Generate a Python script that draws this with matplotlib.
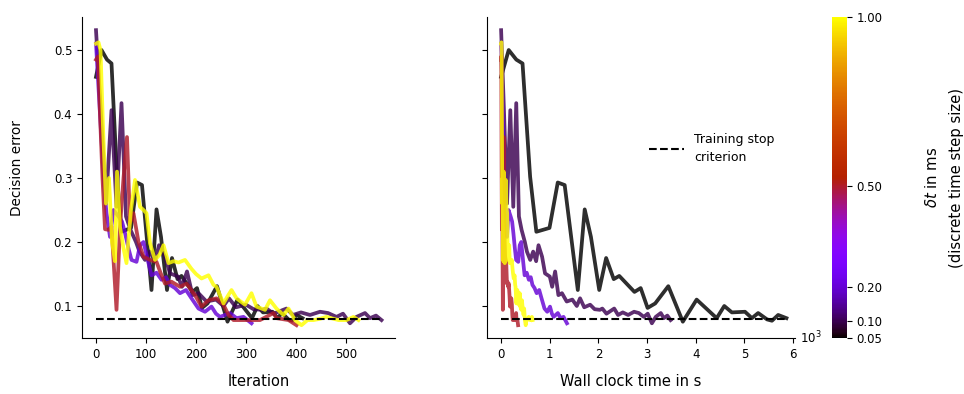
import numpy as np
import matplotlib
matplotlib.use("Agg")
from matplotlib import pyplot as plt
from matplotlib import colors, cm

# time step sizes (ms) of the runs
DT = [0.05, 0.1, 0.2, 0.5, 1.0]
# wall clock seconds per training iteration, per run
SEC_PER_IT = [14.2, 6.1, 4.35, 0.87, 1.23]

IT_005 = [0, 11, 22, 31, 42, 51, 70, 82, 92, 111, 121, 130, 142, 152, 163, 171, 193,
          202, 212, 223, 242, 263, 283, 312, 323, 334, 353, 363, 372, 385, 392, 401, 413]
ERR_005 = [0.458, 0.50, 0.485, 0.479, 0.302, 0.216, 0.222, 0.293, 0.289, 0.125, 0.251,
           0.208, 0.125, 0.175, 0.142, 0.147, 0.122, 0.128, 0.097, 0.104, 0.131, 0.0755,
           0.110, 0.081, 0.100, 0.090, 0.091, 0.081, 0.089, 0.079, 0.077, 0.086, 0.081]

IT_01 = [0, 10, 20, 31, 41, 51, 60, 69, 80, 87, 98, 108, 118, 126, 138, 148, 164, 172,
         182, 193, 205, 221, 240, 255, 266, 280, 300, 315, 333, 341, 355, 368, 381, 394,
         410, 428, 448, 464, 481, 494, 508, 521, 538, 548, 560, 571]
ERR_01 = [0.531, 0.40, 0.26, 0.406, 0.255, 0.417, 0.24, 0.219, 0.20, 0.185, 0.172, 0.185,
          0.17, 0.195, 0.177, 0.151, 0.146, 0.13, 0.154, 0.117, 0.12, 0.107, 0.11, 0.10,
          0.112, 0.098, 0.102, 0.095, 0.094, 0.096, 0.088, 0.092, 0.096, 0.086, 0.09,
          0.086, 0.091, 0.089, 0.083, 0.088, 0.073, 0.083, 0.089, 0.081, 0.085, 0.078]

IT_02 = [0, 8, 16, 21, 28, 35, 45, 52, 58, 65, 71, 81, 88, 95, 104, 111, 121, 131, 140,
         148, 158, 168, 180, 191, 205, 218, 231, 240, 248, 258, 268, 281, 295, 303, 311]
ERR_02 = [0.51, 0.40, 0.29, 0.245, 0.208, 0.25, 0.24, 0.232, 0.214, 0.19, 0.172, 0.169,
          0.195, 0.20, 0.17, 0.148, 0.152, 0.141, 0.145, 0.133, 0.128, 0.12, 0.125, 0.112,
          0.096, 0.091, 0.099, 0.088, 0.083, 0.086, 0.089, 0.081, 0.083, 0.078, 0.073]

IT_05 = [0, 4, 8, 13, 18, 25, 31, 41, 48, 55, 62, 68, 75, 85, 95, 108, 121, 130, 138,
         151, 168, 181, 198, 211, 225, 241, 255, 265, 275, 301, 328, 355, 361, 385, 401]
ERR_05 = [0.485, 0.49, 0.40, 0.30, 0.22, 0.219, 0.224, 0.094, 0.224, 0.30, 0.364, 0.23,
          0.245, 0.20, 0.177, 0.172, 0.169, 0.15, 0.135, 0.138, 0.13, 0.135, 0.117, 0.099,
          0.109, 0.112, 0.102, 0.086, 0.078, 0.078, 0.078, 0.089, 0.081, 0.078, 0.07]

IT_1 = [0, 5, 9, 14, 20, 26, 32, 38, 42, 48, 55, 61, 70, 78, 88, 95, 101, 108, 118, 127,
        135, 145, 155, 165, 178, 191, 200, 211, 225, 235, 241, 255, 263, 271, 281, 298,
        311, 321, 338, 348, 361, 375, 385, 398, 411, 423, 435, 448, 461, 475, 485, 501,
        515, 525]
ERR_1 = [0.51, 0.512, 0.50, 0.38, 0.26, 0.30, 0.20, 0.17, 0.31, 0.224, 0.19, 0.167, 0.25,
         0.297, 0.255, 0.25, 0.245, 0.198, 0.172, 0.18, 0.195, 0.167, 0.17, 0.168, 0.172,
         0.158, 0.15, 0.143, 0.148, 0.133, 0.13, 0.104, 0.115, 0.125, 0.112, 0.102, 0.12,
         0.099, 0.094, 0.109, 0.096, 0.086, 0.096, 0.078, 0.07, 0.078, 0.078, 0.08, 0.083,
         0.08, 0.078, 0.078, 0.083, 0.078]

RUNS_IT = [IT_005, IT_01, IT_02, IT_05, IT_1]
RUNS_ERR = [ERR_005, ERR_01, ERR_02, ERR_05, ERR_1]

STOP_CRITERION = 0.08

W, H = 964, 394
fig = plt.figure(figsize=(W / 100, H / 100), dpi=100)
ax1 = fig.add_axes([82 / W, 56 / H, 313 / W, 321 / H])
ax2 = fig.add_axes([487 / W, 56 / H, 308 / W, 321 / H], sharey=ax1)
cax = fig.add_axes([832 / W, 56 / H, 15 / W, 321 / H])

cmap = plt.get_cmap("gnuplot")
norm = colors.Normalize(vmin=0.05, vmax=1.0)

max_it = 0
max_t = 0
for dt, spi, it, err in zip(DT, SEC_PER_IT, RUNS_IT, RUNS_ERR):
    it = np.array(it)
    t = it * spi
    c = cmap(norm(dt))
    ax1.plot(it, err, color=c, lw=2.7, alpha=0.82)
    ax2.plot(t, err, color=c, lw=2.7, alpha=0.82)
    max_it = max(max_it, it.max())
    max_t = max(max_t, t.max())

ax1.plot([0, max_it], [STOP_CRITERION] * 2, "k--", lw=1.5)
ax2.plot([0, max_t], [STOP_CRITERION] * 2, "k--", lw=1.5,
         label="Training stop\ncriterion")

ax1.set_xlim(-28, 598)
ax1.set_ylim(0.05, 0.5516)
ax2.set_xlim(-290, 6040)
ax1.set_xticks([0, 100, 200, 300, 400, 500])
ax1.set_yticks([0.1, 0.2, 0.3, 0.4, 0.5])
ax2.set_xticks([0, 1000, 2000, 3000, 4000, 5000, 6000])
ax2.set_xticklabels(["0", "1", "2", "3", "4", "5", "6"])
ax2.text(1.015, 0.0, r"$10^3$", transform=ax2.transAxes, fontsize=8.5, va="center")

for ax in (ax1, ax2):
    ax.spines["top"].set_visible(False)
    ax.spines["right"].set_visible(False)
    ax.tick_params(labelsize=8.5)
ax2.tick_params(labelleft=False)

ax1.set_xlabel("Iteration", fontsize=10.5)
ax1.set_ylabel("Decision error", fontsize=9.8)
ax2.set_xlabel("Wall clock time in s", fontsize=10.5)
ax1.xaxis.set_label_coords(0.566, -0.112)
ax2.xaxis.set_label_coords(0.468, -0.112)
ax1.yaxis.set_label_coords(-0.185, 0.53)

leg = ax2.legend(loc="center left", bbox_to_anchor=(0.49, 0.59), frameon=False,
                 fontsize=9, handlelength=2.8)
leg.get_texts()[0].set_linespacing(1.45)

sm = cm.ScalarMappable(norm=norm, cmap=cmap)
cb = fig.colorbar(sm, cax=cax, ticks=DT)
cb.outline.set_visible(False)
cb.ax.set_yticklabels(["%.2f" % d for d in DT])
cb.ax.tick_params(labelsize=8.5)
cb.set_label("$\\delta t$ in ms\n(discrete time step size)", fontsize=10.7,
             labelpad=30, linespacing=1.7)

fig.savefig("out.png", dpi=100)
